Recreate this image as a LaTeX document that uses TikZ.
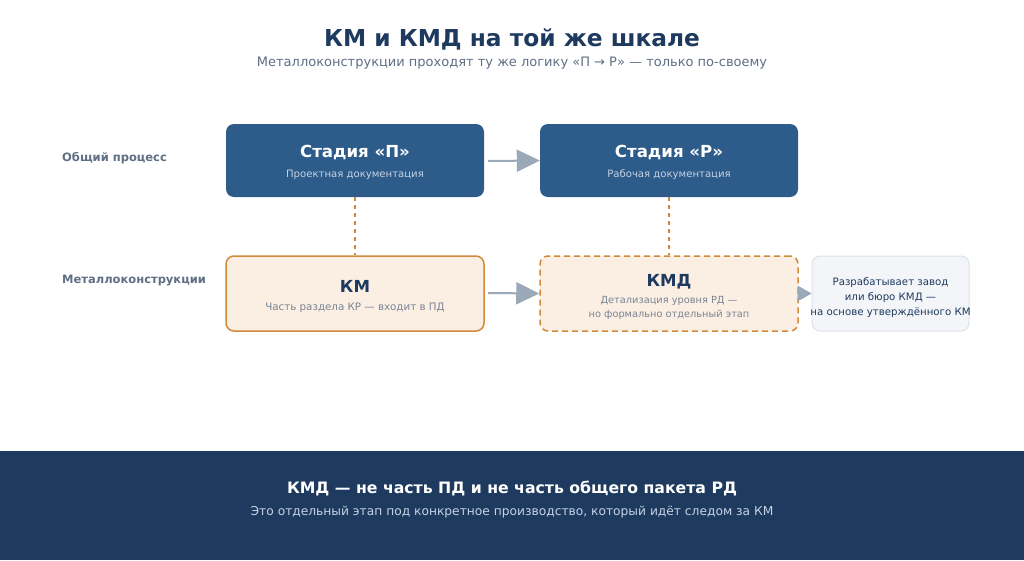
\documentclass[tikz,border=0pt]{standalone}
\usepackage{fontspec}
\setmainfont{DejaVu Sans}
\usetikzlibrary{arrows.meta}
\definecolor{navy}{HTML}{1E3A5F}
\definecolor{stageblue}{HTML}{2D5B8A}
\definecolor{subgray}{HTML}{5F6F84}
\definecolor{lightsub}{HTML}{C5D3E4}
\definecolor{orng}{HTML}{D08A3A}
\definecolor{peach}{HTML}{FBEFE4}
\definecolor{arrowgray}{HTML}{9AA8B8}
\definecolor{notefill}{HTML}{F3F5F9}
\definecolor{noteline}{HTML}{DCE2EA}
\definecolor{kmsub}{HTML}{7A8494}
\tikzset{
  stagebox/.style={draw=none, fill=stageblue, rounded corners=8pt, minimum width=258pt, minimum height=73pt, inner sep=0pt},
  kmbox/.style={draw=orng, line width=1.5pt, fill=peach, rounded corners=8pt, minimum width=258pt, minimum height=75pt, inner sep=0pt},
  notebox/.style={draw=noteline, line width=1pt, fill=notefill, rounded corners=8pt, minimum width=157pt, minimum height=75pt, inner sep=0pt},
  boxtitlew/.style={text=white, font=\bfseries\fontsize{16.6}{19}\selectfont, inner sep=0pt},
  boxtitlen/.style={text=navy, font=\bfseries\fontsize{16.6}{19}\selectfont, inner sep=0pt},
  boxsubl/.style={text=lightsub, font=\fontsize{10.1}{12}\selectfont, inner sep=0pt},
  boxsubg/.style={text=kmsub, font=\fontsize{10}{14}\selectfont, inner sep=0pt, align=center},
  rowlabel/.style={text=subgray, font=\bfseries\fontsize{11.5}{13}\selectfont, anchor=west, inner sep=0pt},
  flow/.style={draw=arrowgray, line width=2pt, -{Triangle[length=23pt, width=22pt]}},
  tie/.style={draw=orng, line width=1.5pt, dash pattern=on 4pt off 4pt},
}
\begin{document}
\begin{tikzpicture}[x=1pt,y=-1pt]
\useasboundingbox (0,0) rectangle (1024,560);
\fill[white] (0,0) rectangle (1024,560);
% title
\node[text=navy, font=\bfseries\fontsize{23.3}{27}\selectfont, inner sep=0pt] (title) at (512,39) {КМ и КМД на той же шкале};
\node[text=subgray, font=\fontsize{13}{16}\selectfont, inner sep=0pt] (subtitle) at (512,63) {Металлоконструкции проходят ту же логику «П → Р» — только по-своему};
% row labels
\node[rowlabel] (row1) at (62,158) {Общий процесс};
\node[rowlabel] (row2) at (62,281) {Металлоконструкции};
% top boxes
\node[stagebox] (P) at (355,160.5) {};
\node[boxtitlew] (Pt) at (355,152.5) {Стадия «П»};
\node[boxsubl] (Ps) at (355,175) {Проектная документация};
\node[stagebox] (R) at (669,160.5) {};
\node[boxtitlew] (Rt) at (669,152.5) {Стадия «Р»};
\node[boxsubl] (Rs) at (669,175) {Рабочая документация};
% bottom boxes
\node[kmbox] (KM) at (355,293.5) {};
\node[boxtitlen] (KMt) at (355,286.5) {КМ};
\node[boxsubg, font=\fontsize{10.3}{14}\selectfont] (KMs) at (355,308) {Часть раздела КР — входит в ПД};
\node[kmbox, dash pattern=on 6pt off 4pt] (KMD) at (669,293.5) {};
\node[boxtitlen] (KMDt) at (669,281.5) {КМД};
\node[boxsubg, font=\fontsize{9.8}{14}\selectfont] (KMDs) at (669,308) {Детализация уровня РД —\\но формально отдельный этап};
\node[notebox] (N) at (890.5,293.5) {};
\node[text=navy, font=\fontsize{10.2}{15}\selectfont, align=center, inner sep=0pt] (Nt) at (890.5,298) {Разрабатывает завод\\или бюро КМД —\\на основе утверждённого КМ};
% connectors
\draw[flow] (488,161) -- (P.east -| R.west);
\draw[flow] (488,293) -- (KM.east -| KMD.west);
\draw[tie] (P.south) -- (KM.north);
\draw[tie] (R.south) -- (KMD.north);
\draw[draw=arrowgray, line width=0pt, -{Triangle[length=14pt, width=16pt]}] (KMD.east) -- (N.west);
% bottom band
\fill[navy] (0,451) rectangle (1024,560);
\node[text=white, font=\bfseries\fontsize{15.7}{19}\selectfont, inner sep=0pt] (bt) at (512,488) {КМД — не часть ПД и не часть общего пакета РД};
\node[text=lightsub, font=\fontsize{12.25}{15}\selectfont, inner sep=0pt] (bs) at (512,512) {Это отдельный этап под конкретное производство, который идёт следом за КМ};
\end{tikzpicture}
\end{document}
